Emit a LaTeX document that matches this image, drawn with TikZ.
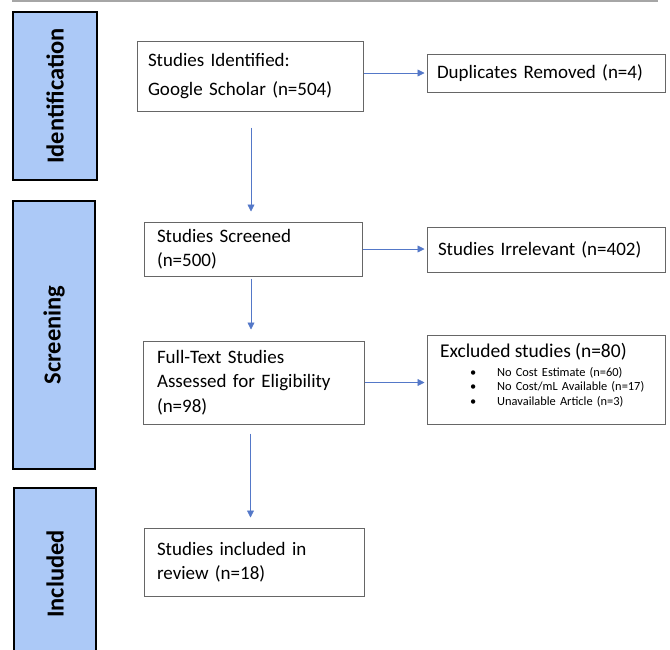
\documentclass[tikz,border=0pt]{standalone}
\usepackage{fontspec}
\setmainfont[WordSpace=0.85]{Carlito}
\usetikzlibrary{positioning,arrows.meta}
\definecolor{phaseblue}{RGB}{172,201,247}
\definecolor{arrowblue}{RGB}{84,120,200}

\begin{document}
\begin{tikzpicture}[x=1pt, y=-1pt,
    phase/.style={draw=black, line width=2.2pt, fill=phaseblue, rotate=90, inner sep=0pt,
                  font=\fontsize{24.5}{28}\selectfont\bfseries},
    stepbox/.style={draw=black!60, line width=1pt, align=left, inner ysep=0pt,
                  font=\fontsize{19}{24.5}\selectfont},
    arr/.style={-{Triangle[length=7pt,width=7pt]}, draw=arrowblue, line width=0.8pt}]
    \useasboundingbox (0,0) rectangle (670,649);
    \clip (0,0) rectangle (670,649);

    % top rule
    \draw[black!35, line width=1.3pt] (12,1) -- (658,1);

    % phases
    \node[phase, minimum width=168pt, minimum height=84pt] (ident) at (55,96) {Identification};
    \node[phase, minimum width=268pt, minimum height=82pt] (screen) at (54,335) {Screening};
    \node[phase, minimum width=172pt, minimum height=82pt] (incl) at (55,574) {Included};

    % left column
    \node[stepbox, minimum width=226pt, minimum height=70pt, text width=204pt, inner xsep=11pt] (found) at (250,76)
        {Studies Identified:\\[5pt]Google Scholar (n=504)};
    \node[stepbox, minimum width=218pt, minimum height=54pt, text width=192pt, inner xsep=13pt] (screened) at (253,249)
        {Studies Screened\\(n=500)};
    \node[stepbox, minimum width=221pt, minimum height=83pt, text width=193pt, inner xsep=14pt] (fulltext) at (253.5,382.5)
        {Full-Text Studies\\Assessed for Eligibility\\(n=98)};
    \node[stepbox, minimum width=220pt, minimum height=68pt, text width=194pt, inner xsep=13pt] (review) at (254,562)
        {Studies included in\\review (n=18)};

    % right column
    \node[stepbox, minimum width=238pt, minimum height=38pt, text width=218pt, inner xsep=10pt] (dupl) at (546,73)
        {Duplicates Removed (n=4)};
    \node[stepbox, minimum width=238pt, minimum height=45pt, text width=216pt, inner xsep=11pt] (irrel) at (546,249.5)
        {Studies Irrelevant (n=402)};
    \node[stepbox, minimum width=238pt, minimum height=89pt, text width=212pt, inner xsep=13pt,
          font=\fontsize{12.4}{14.5}\selectfont] (excl) at (546,379.5)
        {{\fontsize{19.5}{20}\selectfont Excluded studies (n=80)}\\[4pt]
         \hspace*{30pt}\textbullet\hspace{21pt}No Cost Estimate (n=60)\\
         \hspace*{30pt}\textbullet\hspace{21pt}No Cost/mL Available (n=17)\\
         \hspace*{30pt}\textbullet\hspace{21pt}Unavailable Article (n=3)\\[-4pt]\mbox{}};

    % arrows
    \draw[arr, shorten <=16pt, shorten >=10pt] ([xshift=1pt]found.south) -- ([xshift=1pt]found.south |- screened.north);
    \draw[arr, shorten <=2pt, shorten >=11pt] ([xshift=-2pt]screened.south) -- ([xshift=-2pt]screened.south |- fulltext.north);
    \draw[arr, shorten <=9pt, shorten >=10pt] ([xshift=-3pt]fulltext.south) -- ([xshift=-3pt]fulltext.south |- review.north);
    \draw[arr, shorten >=2pt] (found.east |- dupl.west) -- (dupl.west);
    \draw[arr, shorten >=2pt] (screened.east) -- (screened.east -| irrel.west);
    \draw[arr, shorten >=2pt] (fulltext.east) -- (fulltext.east -| excl.west);
\end{tikzpicture}
\end{document}
